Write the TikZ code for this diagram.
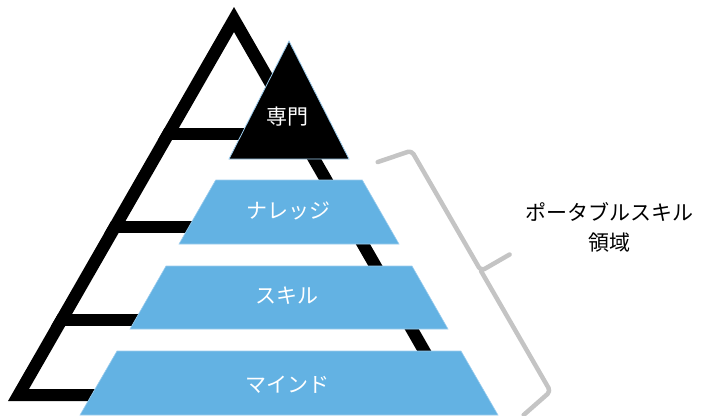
\documentclass[tikz,border=0pt]{standalone}
\usepackage{fontspec}
\newfontfamily\jp{Noto Sans CJK JP}
\definecolor{pblue}{HTML}{63B2E3}
\definecolor{pedge}{HTML}{9CCDEE}
\definecolor{bracegray}{HTML}{C4C4C4}
\tikzset{
  whitetxt/.style={font=\jp\fontsize{21}{25}\selectfont, text=white, inner sep=0pt},
  blacktxt/.style={font=\jp\fontsize{21}{30}\selectfont, text=black, align=center, inner sep=0pt},
  layer/.style={fill=pblue, draw=pedge, line width=0.6pt},
  bracestroke/.style={draw=bracegray, line width=4.5pt, line cap=round, line join=round, rounded corners=4pt}
}
\begin{document}
\begin{tikzpicture}[x=1pt,y=-1pt]
\useasboundingbox (0,0) rectangle (703,415);
% big pyramid outline
\fill[black, even odd rule] (234,7) -- (8,401) -- (460,401) -- cycle
  (234,32) -- (29,389) -- (439,389) -- cycle;
\begin{scope}
  \clip (234,7) -- (8,401) -- (460,401) -- cycle;
  \fill[black] (0,128) rectangle (703,140);
  \fill[black] (0,221) rectangle (703,233);
  \fill[black] (0,314) rectangle (703,326);
\end{scope}
% specialist peak
\filldraw[fill=black, draw=pedge, line width=0.8pt] (289,41) -- (229,159) -- (349,159) -- cycle;
\node[whitetxt] (senmon) at (287,117) {専門};
% layers
\filldraw[layer] (215.7,180) -- (362.3,180) -- (399,244) -- (179,244) -- cycle;
\filldraw[layer] (166,266) -- (412,266) -- (448,329) -- (130,329) -- cycle;
\filldraw[layer] (117,351) -- (461,351) -- (498,415) -- (80,415) -- cycle;
\node[whitetxt] (knowledge) at (288,211) {ナレッジ};
\node[whitetxt] (skill) at (287,296) {スキル};
\node[whitetxt] (mind) at (287,385) {マインド};
% brace
\begin{scope}[shift={(481,271)}, rotate=30]
  \path[bracestroke] (-35,-146) -- (0,-139) -- (0,0) -- (33,0)
    (0,0) -- (0,139) -- (-35,146);
\end{scope}
\node[blacktxt] (portable) at (609,227) {ポータブルスキル\\領域};
\end{tikzpicture}
\end{document}
